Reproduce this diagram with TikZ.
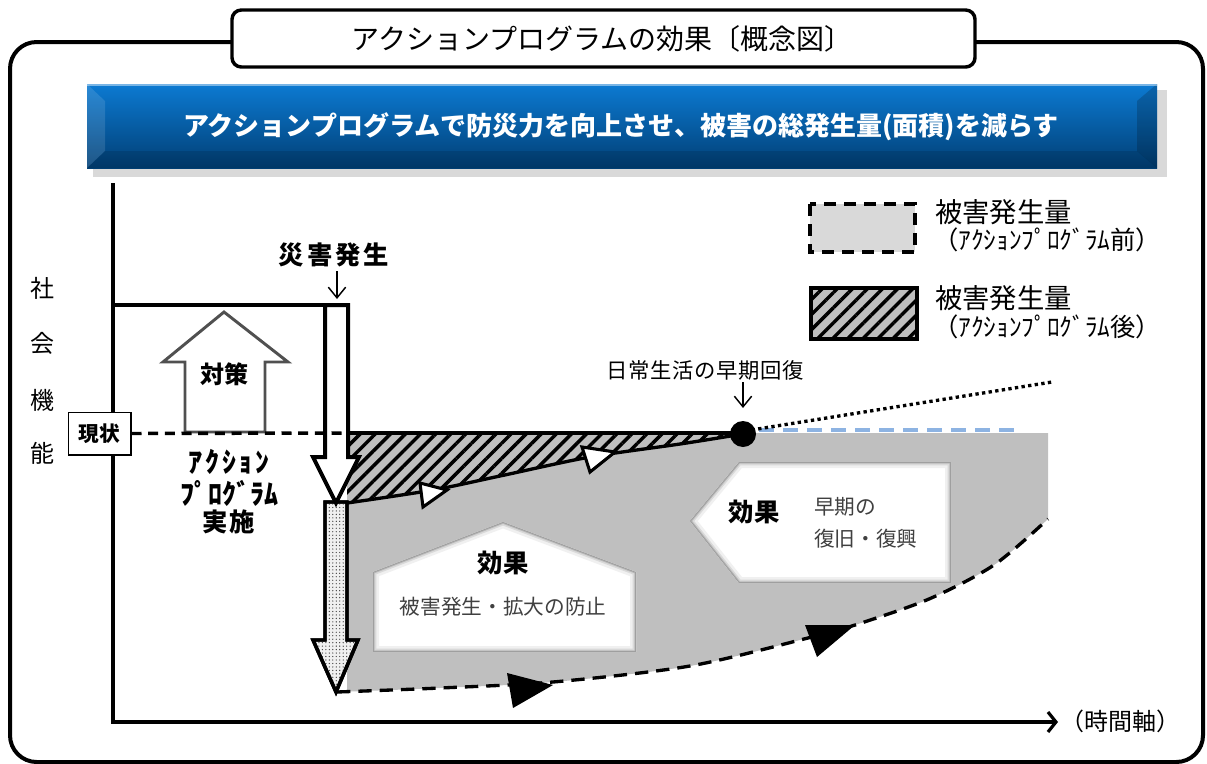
\documentclass[tikz,border=0pt]{standalone}
\usepackage{fontspec}
\setmainfont{Noto Sans CJK JP}
\usetikzlibrary{arrows.meta,patterns.meta}
\definecolor{areagray}{HTML}{BFBFBF}
\definecolor{legendgray}{HTML}{D9D9D9}
\definecolor{bluetop}{HTML}{0C7AD2}
\definecolor{bluebot}{HTML}{013F75}
\definecolor{bluedash}{HTML}{8DB3E2}
\definecolor{boxtext}{HTML}{404040}
\definecolor{arrowgray}{HTML}{505050}
\newcommand\pxf[1]{\fontsize{#1pt}{#1pt}\selectfont}
\tikzset{
  lbl/.style={inner sep=0pt, outer sep=0pt},
  thickline/.style={line width=3pt},
  thinarrow/.style={line width=1.1pt, -{Straight Barb[length=8pt,width=13pt,line width=1.1pt]}},
  hatchfill/.style={pattern={Lines[angle=45,distance=8pt,line width=2.6pt]}, pattern color=black},
  dotfill/.style={pattern={Dots[distance=2.6pt,radius=0.5pt]}, pattern color=black!75},
}
\begin{document}
\begin{tikzpicture}[x=0.75pt,y=-0.75pt]
\useasboundingbox (0,0) rectangle (1207,764);

% outer frame
\draw[thickline, rounded corners=20pt] (232,42) -- (10,42) -- (10,762) -- (1203,762) -- (1203,42) -- (975,42);

% title box
\draw[line width=2.6pt, fill=white, rounded corners=7pt] (232,10) rectangle (975,67);
\node[lbl] (title) at (602,39) {\pxf{21}アクションプログラムの効果〔概念図〕};

% banner
\fill[gray!30] (93,168) rectangle (1163,177);
\fill[gray!30] (1157,90) rectangle (1167,177);
\shade[top color=bluetop, bottom color=bluebot] (87,84) rectangle (1157,168);
\fill[white, opacity=0.12] (87,84) -- (105,101) -- (105,151) -- (87,168) -- cycle;
\fill[black, opacity=0.18] (1157,84) -- (1137,101) -- (1137,151) -- (1157,168) -- cycle;
\fill[black, opacity=0.12] (87,168) -- (105,151) -- (1137,151) -- (1157,168) -- cycle;
\draw[white, opacity=0.45, line width=1pt] (87,85) -- (1157,85);
\node[lbl, text=white] (banner) at (621,127) {\pxf{19.5}\bfseries アクションプログラムで防災力を向上させ、被害の総発生量(面積)を減らす};

% axes
\coordinate (ytop) at (113,183);
\coordinate (orig) at (111,722);
\coordinate (xend) at (1058,722);
\draw[thickline] (ytop) -- (113,722);
\draw[thickline, -{Straight Barb[length=6pt,width=15pt,line width=2.4pt]}] (orig) -- (xend);
\node[lbl] (timeaxis) at (1120,721) {\pxf{18}（時間軸）};

% vertical label
\node[lbl] (sha) at (42,288) {\pxf{18}社};
\node[lbl] (kai) at (42,343) {\pxf{18}会};
\node[lbl] (ki) at (42,400) {\pxf{18}機};
\node[lbl] (nou) at (42,453) {\pxf{18}能};

% gray area (before)
\fill[areagray] (347,433) -- (1048,433) -- (1048,519)
  -- plot[smooth] coordinates {(1048,519) (994,565) (929,599) (855,625) (808,638) (690,666) (553,682) (440,688) (337,692)}
  -- (347,692) -- cycle;
\draw[line width=2.5pt, dash pattern=on 10pt off 6pt]
  plot[smooth] coordinates {(337,692) (440,688) (553,682) (690,666) (808,638) (855,625) (929,599) (994,565) (1048,519)};
\fill (553,685) -- (507,673) -- (513,708) -- cycle;
\fill (855,625) -- (805,625) -- (817,657) -- cycle;

% hatched area (after)
\fill[areagray] (347,433) -- (743,433) -- plot[smooth] coordinates {(743,434) (680,444) (590,457) (500,476) (433,490) (347,503)} -- cycle;
\fill[hatchfill] (347,433) -- (743,433) -- plot[smooth] coordinates {(743,434) (680,444) (590,457) (500,476) (433,490) (347,503)} -- cycle;
\draw[thickline] (347,433) -- (743,433);
\draw[line width=2.5pt] plot[smooth] coordinates {(347,503) (433,490) (500,476) (590,457) (680,444) (743,434)};
\draw[line width=2.3pt, fill=white, line join=miter] (447,490) -- (420,483) -- (423,507) -- cycle;
\draw[line width=2.3pt, fill=white, line join=miter] (615,452) -- (582,447) -- (590,472) -- cycle;

% blue dashed and dotted lines
\draw[bluedash, line width=2.6pt, dash pattern=on 11pt off 7pt] (735,430) -- (1023,430);
\draw[line width=2.5pt, dash pattern=on 2.5pt off 2.5pt] (745,431) -- (1052,382);
\node[circle, fill=black, minimum size=19.5pt, inner sep=0pt] (recov) at (743,434) {};

% measure arrow
\draw[line width=2.2pt, draw=arrowgray, fill=white] (224,312) -- (288,362) -- (265,362) -- (265,432) -- (185,432) -- (185,362) -- (163,362) -- cycle;
\node[lbl] (taisaku) at (224,374) {\pxf{18}\bfseries 対策};

% top level line
\draw[thickline] (113,305) -- (327,305);

% down arrows
\draw[line width=2.6pt, fill=gray!12, line join=miter] (325,502) -- (347,502) -- (347,640) -- (358,640) -- (336,692) -- (313,640) -- (325,640) -- cycle;
\fill[dotfill] (325,502) -- (347,502) -- (347,640) -- (358,640) -- (336,692) -- (313,640) -- (325,640) -- cycle;
\draw[line width=2.6pt, line join=miter] (325,502) -- (347,502) -- (347,640) -- (358,640) -- (336,692) -- (313,640) -- (325,640) -- cycle;
\draw[thickline, fill=white, line join=miter] (325,305) -- (348,305) -- (348,457) -- (359,457) -- (336,503) -- (313,457) -- (325,457) -- cycle;

% current level
\node[draw, line width=1pt, fill=white, minimum width=47pt, minimum height=32pt, inner sep=0pt] (genjo) at (99.5,433.5) {\pxf{15.5}\bfseries 現状};
\draw[line width=2.6pt, dash pattern=on 7.5pt off 5pt] (genjo.east) -- (347,433);

% action program text
\node[lbl] (ap1) at (229,462) {\pxf{21}\bfseries\addfontfeatures{LetterSpace=9}ｱｸｼｮﾝ};
\node[lbl] (ap2) at (229,493) {\pxf{21}\bfseries ﾌﾟﾛｸﾞﾗﾑ};
\node[lbl] (ap3) at (229,522) {\pxf{19}\bfseries\addfontfeatures{LetterSpace=8}実施};

% disaster label
\node[lbl] (disaster) at (334,255) {\pxf{19}\bfseries\addfontfeatures{LetterSpace=12}災害発生};
\coordinate (hit) at (337,299);
\draw[thinarrow] (disaster.south -| hit) ++(0,4) -- (hit);

% recovery label
\node[lbl] (daily) at (705,370) {\pxf{16}\addfontfeatures{LetterSpace=3}日常生活の早期回復};
\coordinate (dailytip) at (743,408);
\draw[thinarrow] (743,382) -- (dailytip);

% effect box 1
\begin{scope}
\clip (503,522) -- (636,572) -- (636,652) -- (373,652) -- (373,572) -- cycle;
\fill[white] (373,520) rectangle (636,652);
\draw[line width=9pt, gray!12] (503,522) -- (636,572) -- (636,652) -- (373,652) -- (373,572) -- cycle;
\draw[line width=5pt, gray!30] (503,522) -- (636,572) -- (636,652) -- (373,652) -- (373,572) -- cycle;
\draw[line width=2.6pt, gray!55] (503,522) -- (636,572) -- (636,652) -- (373,652) -- (373,572) -- cycle;
\draw[line width=1.2pt, gray!75] (503,522) -- (636,572) -- (636,652) -- (373,652) -- (373,572) -- cycle;
\end{scope}
\node[lbl] (eff1) at (503,563) {\pxf{19}\bfseries 効果};
\node[lbl, text=boxtext] (eff1t) at (503,607) {\pxf{15.5}被害発生・拡大の防止};

% effect box 2
\begin{scope}
\clip (690,521) -- (739,462) -- (951,462) -- (951,583) -- (739,583) -- cycle;
\fill[white] (688,460) rectangle (951,583);
\draw[line width=9pt, gray!12] (690,521) -- (739,462) -- (951,462) -- (951,583) -- (739,583) -- cycle;
\draw[line width=5pt, gray!30] (690,521) -- (739,462) -- (951,462) -- (951,583) -- (739,583) -- cycle;
\draw[line width=2.6pt, gray!55] (690,521) -- (739,462) -- (951,462) -- (951,583) -- (739,583) -- cycle;
\draw[line width=1.2pt, gray!75] (690,521) -- (739,462) -- (951,462) -- (951,583) -- (739,583) -- cycle;
\end{scope}
\node[lbl] (eff2) at (754,512) {\pxf{19}\bfseries 効果};
\node[lbl, text=boxtext, anchor=west] (eff2a) at (814,507) {\pxf{15.5}早期の};
\node[lbl, text=boxtext, anchor=west] (eff2b) at (814,539) {\pxf{15.5}復旧・復興};

% legend
\draw[line width=2.6pt, dash pattern=on 9pt off 6pt, fill=legendgray] (810,204) rectangle (915,252);
\draw[line width=2.6pt, fill=areagray] (811,288) rectangle (917,339);
\fill[hatchfill] (811,288) rectangle (917,339);
\draw[line width=2.6pt] (811,288) rectangle (917,339);
\node[lbl, anchor=west] (leg1a) at (935,212) {\pxf{20.5}被害発生量};
\node[lbl, anchor=west] (leg1b) at (933,240) {\pxf{19}（ｱｸｼｮﾝﾌﾟﾛｸﾞﾗﾑ前）};
\node[lbl, anchor=west] (leg2a) at (935,298) {\pxf{20.5}被害発生量};
\node[lbl, anchor=west] (leg2b) at (933,327) {\pxf{19}（ｱｸｼｮﾝﾌﾟﾛｸﾞﾗﾑ後）};
\end{tikzpicture}
\end{document}
